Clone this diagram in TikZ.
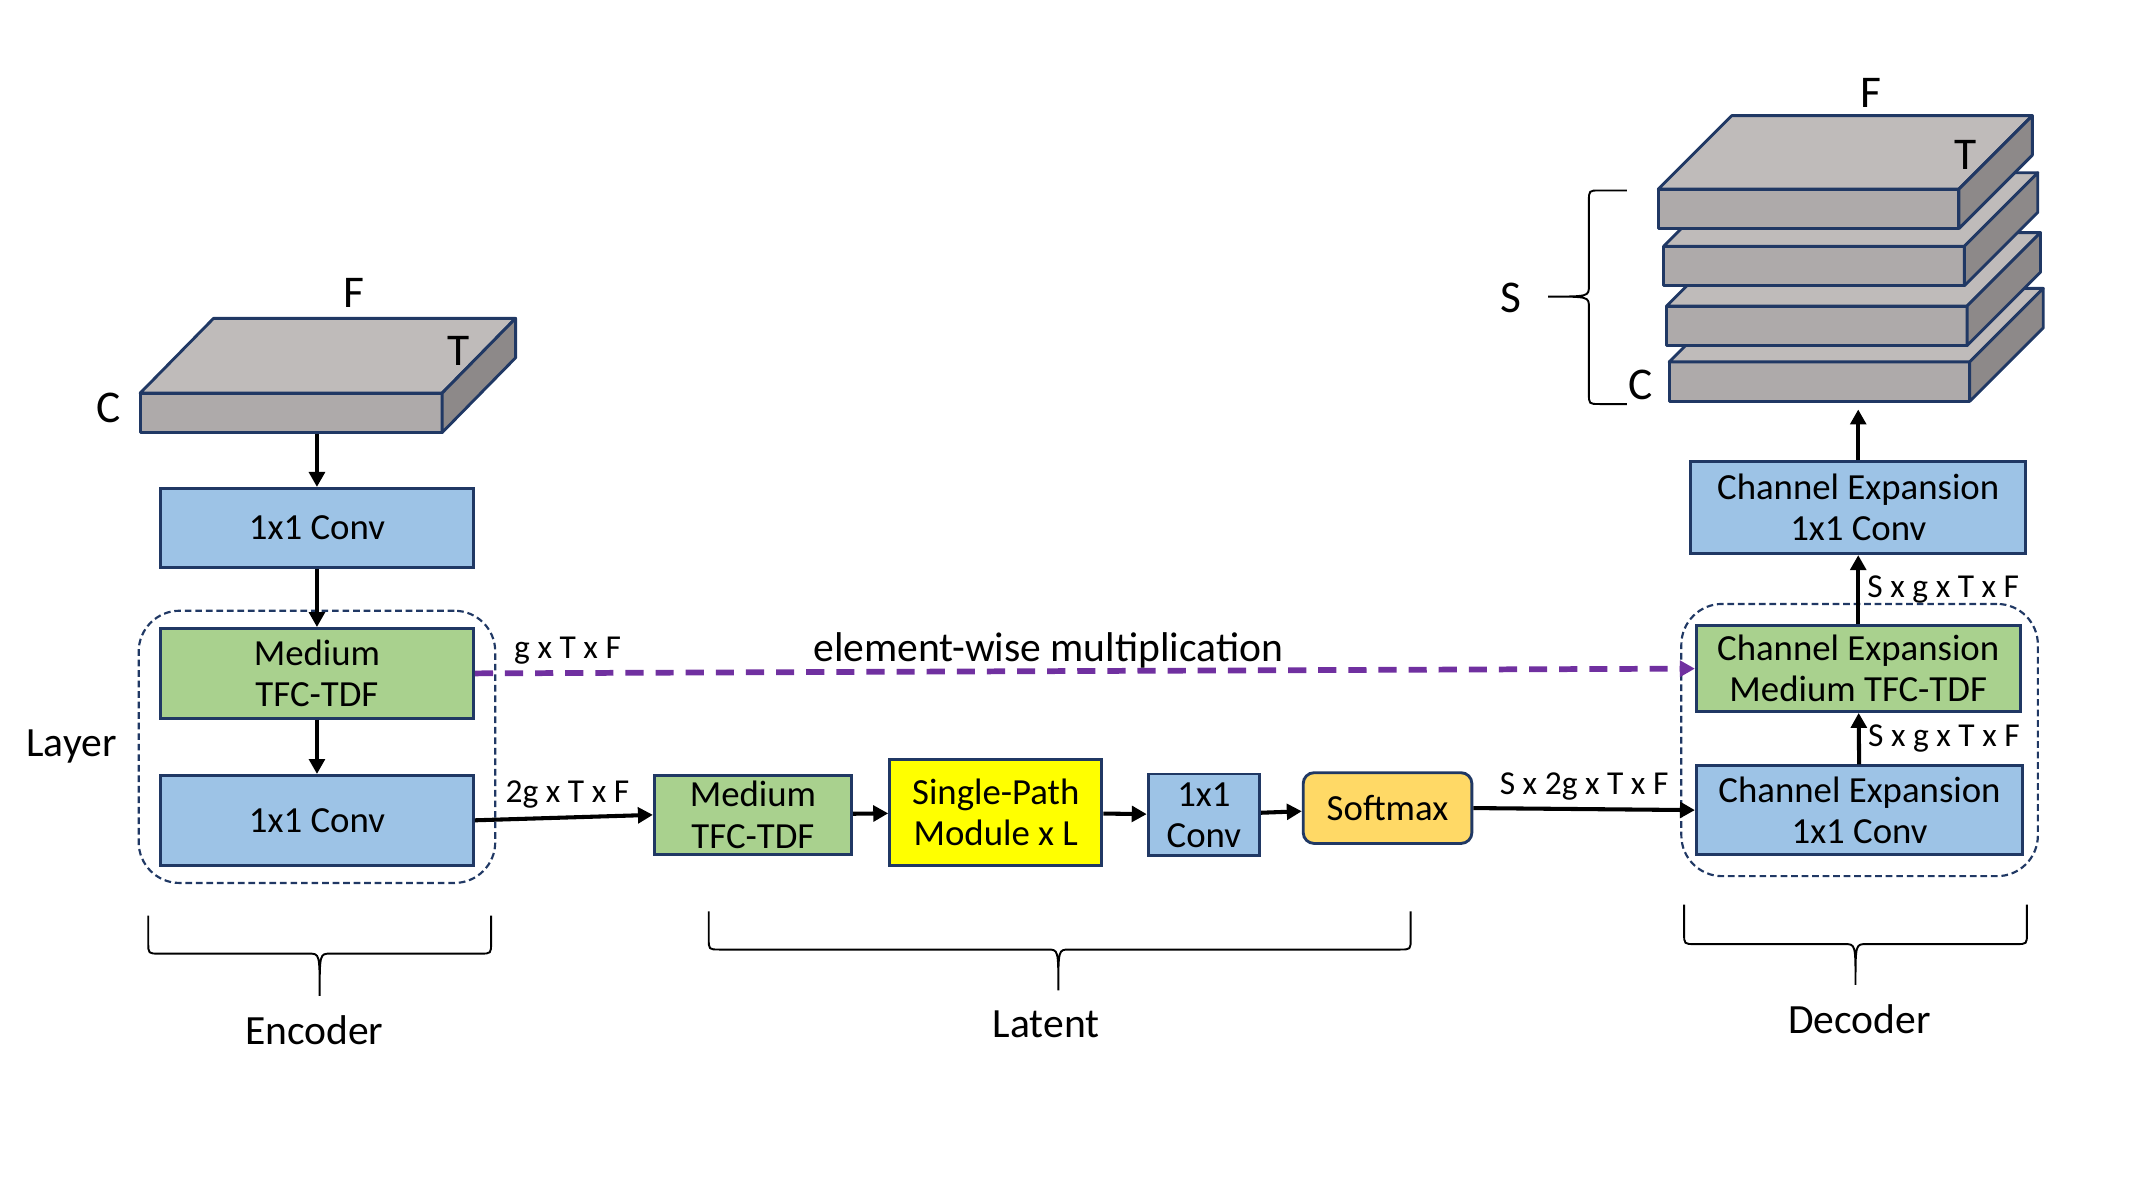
\documentclass[tikz,border=0pt]{standalone}
\usepackage{fontspec}
\setmainfont{Carlito}
\usetikzlibrary{positioning,fit,arrows.meta}

\definecolor{convblue}{HTML}{9DC3E6}
\definecolor{tfcgreen}{HTML}{A9D18E}
\definecolor{spmyellow}{HTML}{FFFF00}
\definecolor{softorange}{HTML}{FFD966}
\definecolor{edgenavy}{HTML}{203864}
\definecolor{mulpurple}{HTML}{7030A0}
\definecolor{slabtop}{HTML}{BFBBBA}
\definecolor{slabfront}{HTML}{AEAAAA}
\definecolor{slabside}{HTML}{8D8989}

\begin{document}
\begin{tikzpicture}[>={Triangle[length=1.1mm,width=1.15mm]}]

\tikzset{%
every block/.style={
draw=edgenavy,
line width=0.6pt,
align=center,
inner sep=0pt,
font=\fontsize{7.7}{8.6}\selectfont
},
conv block/.style={fill=convblue},
tfc block/.style={fill=tfcgreen},
spm block/.style={fill=spmyellow},
soft block/.style={fill=softorange, rounded corners=0.08cm},
layer box/.style={
draw=edgenavy,
line width=0.45pt,
dash pattern=on 1.4pt off 0.8pt,
rounded corners=0.3cm
},
arrow line/.style={line width=0.85pt},
mul line/.style={mulpurple, line width=1.2pt, dash pattern=on 3.8pt off 2.5pt},
dim label/.style={text=black, font=\fontsize{7}{8}\selectfont, inner sep=1.5pt},
big label/.style={text=black, font=\fontsize{8.7}{10}\selectfont},
axis label/.style={font=\fontsize{9.5}{10}\selectfont},
slab face/.style={draw=edgenavy, line width=0.6pt, line join=round},
brace line/.style={line width=0.4pt},
}

\useasboundingbox (0,0) rectangle (15.68,-8.82);

% Input spectrogram slab
\foreach \sx/\sy in {1.03/-2.89}
{
\fill [slabfront, slab face] (\sx,\sy) rectangle ++(2.22,-0.29);
\fill [slabtop, slab face] (\sx,\sy) -- ++(0.54,0.55) -- ++(2.22,0) -- ++(-0.54,-0.55) -- cycle;
\fill [slabside, slab face] (\sx+2.22,\sy) -- ++(0.54,0.55) -- ++(0,-0.29) -- ++(-0.54,-0.55) -- cycle;
}
\node [axis label] at (2.60,-2.15) {F};
\node [axis label] at (3.37,-2.58) {T};
\node [axis label] at (0.80,-3.00) {C};
\coordinate (encSlab) at (2.33,-3.19);

% Output stack of S slabs (drawn bottom first)
\foreach \sx/\sy in {12.27/-2.66, 12.25/-2.25, 12.23/-1.81, 12.19/-1.39}
{
\fill [slabfront, slab face] (\sx,\sy) rectangle ++(2.21,-0.29);
\fill [slabtop, slab face] (\sx,\sy) -- ++(0.54,0.54) -- ++(2.21,0) -- ++(-0.54,-0.54) -- cycle;
\fill [slabside, slab face] (\sx+2.21,\sy) -- ++(0.54,0.54) -- ++(0,-0.29) -- ++(-0.54,-0.54) -- cycle;
}
\node [axis label] at (13.75,-0.68) {F};
\node [axis label] at (14.45,-1.14) {T};
\node [axis label] at (12.06,-2.83) {C};
\node [axis label] at (11.11,-2.19) {S};
\coordinate (stackBottom) at (13.66,-3.01);

% Encoder blocks
\node [every block, conv block, minimum width=2.30cm, minimum height=0.58cm] (encConv1) at (2.33,-3.88) {1x1 Conv};
\node [every block, tfc block, minimum width=2.30cm, minimum height=0.66cm] (encMed) at (2.33,-4.95) {Medium\\TFC-TDF};
\node [every block, conv block, minimum width=2.30cm, minimum height=0.66cm] (encConv2) at (2.33,-6.03) {1x1 Conv};
\node [layer box, fit=(encMed)(encConv2), inner xsep=0.15cm, inner ysep=0.12cm] (encLayer) {};
\node [big label, left=0.03cm of encLayer] (layerText) {Layer};

% Latent blocks
\node [every block, tfc block, minimum width=1.45cm, minimum height=0.58cm] (latMed) at (5.535,-5.99) {Medium\\TFC-TDF};
\node [every block, spm block, minimum width=1.56cm, minimum height=0.78cm] (latSpm) at (7.32,-5.97) {Single-Path\\Module x L};
\node [every block, conv block, minimum width=0.82cm, minimum height=0.60cm] (latConv) at (8.85,-5.99) {1x1\\Conv};
\node [every block, soft block, minimum width=1.24cm, minimum height=0.52cm] (latSoft) at (10.20,-5.94) {Softmax};

% Decoder blocks
\node [every block, conv block, minimum width=2.40cm, minimum height=0.65cm] (decConv) at (13.67,-5.955) {Channel Expansion\\1x1 Conv};
\node [every block, tfc block, minimum width=2.38cm, minimum height=0.63cm] (decMed) at (13.66,-4.915) {Channel Expansion\\Medium TFC-TDF};
\node [layer box, fit=(decMed)(decConv), inner xsep=0.1cm, inner ysep=0.15cm] (decLayer) {};
\node [every block, conv block, minimum width=2.46cm, minimum height=0.68cm] (outConv) at (13.66,-3.73) {Channel Expansion\\1x1 Conv};

% Main signal path
\draw [arrow line, ->] (encSlab) -- (encConv1);
\draw [arrow line, ->] (encConv1) -- (encMed);
\draw [arrow line, ->] (encMed) -- (encConv2);
\draw [arrow line, ->] (encConv2.east) -- node[dim label, above, pos=0.52] {2g x T x F} (latMed.west);
\draw [arrow line, ->] (latMed) -- (latSpm);
\draw [arrow line, ->] (latSpm) -- (latConv);
\draw [arrow line, ->] (latConv) -- (latSoft);
\draw [arrow line, ->] (latSoft.east) -- node[dim label, above, midway] {S x 2g x T x F} (decConv.west);
\draw [arrow line, ->] (decConv) -- node[dim label, right, midway] {S x g x T x F} (decMed);
\draw [arrow line, ->] (decMed) -- node[dim label, right, midway] {S x g x T x F} (outConv);
\draw [arrow line, ->] (outConv) -- (stackBottom);

% Skip connection
\draw [mul line, ->] (encMed.east) -- node[dim label, pos=0.076, above=-0.3pt] {g x T x F}
node[big label, pos=0.47, above=-3.3pt] {element-wise multiplication} (decMed.west);

% Braces and their labels
\draw [brace line] (1.09,-6.73) -- (1.09,-6.93) .. controls (1.09,-7.01) .. (1.17,-7.01) -- (2.27,-7.01)
.. controls (2.35,-7.01) .. (2.35,-7.32) .. controls (2.35,-7.01) .. (2.43,-7.01) -- (3.53,-7.01)
.. controls (3.61,-7.01) .. (3.61,-6.93) -- (3.61,-6.73);
\node [big label] (encText) at (2.31,-7.57) {Encoder};

\draw [brace line] (5.21,-6.70) -- (5.21,-6.90) .. controls (5.21,-6.98) .. (5.29,-6.98) -- (7.70,-6.98)
.. controls (7.78,-6.98) .. (7.78,-7.28) .. controls (7.78,-6.98) .. (7.86,-6.98) -- (10.29,-6.98)
.. controls (10.37,-6.98) .. (10.37,-6.90) -- (10.37,-6.70);
\node [big label] (latText) at (7.69,-7.53) {Latent};

\draw [brace line] (12.38,-6.65) -- (12.38,-6.86) .. controls (12.38,-6.94) .. (12.46,-6.94) -- (13.56,-6.94)
.. controls (13.64,-6.94) .. (13.64,-7.24) .. controls (13.64,-6.94) .. (13.72,-6.94) -- (14.82,-6.94)
.. controls (14.90,-6.94) .. (14.90,-6.86) -- (14.90,-6.65);
\node [big label] (decText) at (13.67,-7.49) {Decoder};

\draw [brace line] (11.96,-1.40) -- (11.76,-1.40) .. controls (11.68,-1.40) .. (11.68,-1.48) -- (11.68,-2.10)
.. controls (11.68,-2.18) .. (11.38,-2.18) .. controls (11.68,-2.18) .. (11.68,-2.26) -- (11.68,-2.89)
.. controls (11.68,-2.97) .. (11.76,-2.97) -- (11.96,-2.97);

\end{tikzpicture}
\end{document}
